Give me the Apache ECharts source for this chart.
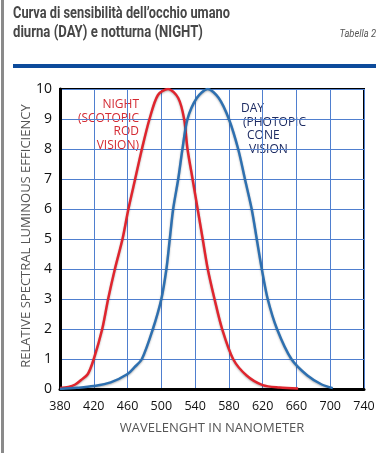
<!DOCTYPE html>
<html><head><meta charset="utf-8">
<script src="https://cdn.jsdelivr.net/npm/echarts@6/dist/echarts.min.js"></script>
<style>html,body{margin:0;padding:0;background:#fff}#c{width:385px;height:453px}</style>
</head><body><div id="c"></div>
<script>
var titleLines = ["Curva di sensibilità dell\u2019occhio umano", "diurna (DAY) e notturna (NIGHT)"];
var tableLabel = "Tabella 2";
var xName = "WAVELENGHT IN NANOMETER";
var yName = "RELATIVE SPECTRAL LUMINOUS EFFICIENCY";
var nightLabel = ["NIGHT", "(SCOTOPIC", "ROD", "VISION)"];
var dayLabel = ["DAY", "(PHOTOPIC", "CONE", "VISION"];
var nightWl = [380, 390, 398, 405, 413, 420, 430, 437, 445, 454, 461, 469, 477, 486, 496, 508, 520, 527, 531, 537, 543, 549, 555, 563, 572, 585, 601, 620, 640, 662];
var nightVal = [0.03, 0.07, 0.15, 0.3, 0.5, 1.0, 2.0, 3.0, 4.0, 5.0, 6.0, 7.0, 8.0, 9.0, 9.8, 10.0, 9.7, 9.0, 8.0, 7.0, 6.0, 5.0, 4.0, 3.0, 2.0, 1.0, 0.45, 0.13, 0.05, 0.02];
var dayWl = [380, 400, 420, 440, 460, 468, 477, 490, 500, 506, 510, 514, 520, 525, 531, 542, 555, 568, 580, 591, 599, 607, 613, 619, 626, 637, 654, 673, 690, 703];
var dayVal = [0.0, 0.04, 0.1, 0.22, 0.5, 0.72, 1.0, 2.0, 3.0, 4.0, 5.0, 6.0, 7.0, 8.0, 9.0, 9.7, 10.0, 9.7, 9.0, 8.0, 7.0, 6.0, 5.0, 4.0, 3.0, 2.0, 1.0, 0.45, 0.15, 0.03];
function pairs(a, b) { return a.map(function (v, i) { return [v, b[i]]; }); }

var chart = echarts.init(document.getElementById('c'), null, {renderer: 'canvas'});
var graphics = [
  {type: 'rect', left: 1, top: 0, shape: {width: 3, height: 453}, style: {fill: '#8a8a8a'}},
  {type: 'text', left: 13, top: 6, scaleX: 0.8, style: {text: titleLines[0], font: 'bold 16px Roboto', fill: '#474747'}},
  {type: 'text', left: 13, top: 25, scaleX: 0.82, style: {text: titleLines[1], font: 'bold 16px Roboto', fill: '#474747'}},
  {type: 'text', right: 9, top: 29, scaleX: 0.85, style: {text: tableLabel, font: 'italic 11px Roboto', fill: '#555'}},
  {type: 'rect', left: 13, top: 64, shape: {width: 363, height: 4}, style: {fill: '#0d4b9b'}},
  {type: 'text', x: 26, y: 236, rotation: Math.PI / 2, style: {text: yName, font: '13px "Open Sans"', fill: '#555', align: 'center', verticalAlign: 'middle'}}
];
nightLabel.forEach(function (t, i) {
  graphics.push({type: 'text', x: 139, y: 99 + i * 13.5, style: {text: t, font: '12px "Open Sans"', fill: '#d42a33', align: 'right'}});
});
var dayX = [241, 243, 247, 249];
dayLabel.forEach(function (t, i) {
  graphics.push({type: 'text', x: dayX[i], y: 103 + i * 13.5, style: {text: t, font: '12px "Open Sans"', fill: '#1d2b62', align: 'left'}});
});

var lineShadow = {shadowColor: 'rgba(0,0,0,0.3)', shadowBlur: 2, shadowOffsetY: 1};
chart.setOption({
  animation: false,
  graphic: graphics,
  grid: {left: 60, right: 21, top: 89, bottom: 64, show: true, borderColor: '#000', borderWidth: 2},
  xAxis: {
    type: 'value', min: 380, max: 740, interval: 40,
    name: xName, nameLocation: 'middle', nameGap: 33,
    nameTextStyle: {fontFamily: '"Open Sans"', fontSize: 13, color: '#555'},
    axisLine: {lineStyle: {color: '#000', width: 3}},
    axisTick: {show: false},
    axisLabel: {fontFamily: '"Open Sans"', fontSize: 12.5, color: '#111', margin: 11},
    splitLine: {lineStyle: {color: '#4f7fcf', width: 1}}
  },
  yAxis: {
    type: 'value', min: 0, max: 10, interval: 1,
    axisLine: {lineStyle: {color: '#000', width: 3}},
    axisTick: {show: false},
    axisLabel: {fontFamily: '"Open Sans"', fontSize: 14, color: '#111', margin: 8},
    splitLine: {lineStyle: {color: '#4f7fcf', width: 1}}
  },
  series: [
    {type: 'line', data: pairs(nightWl, nightVal), smooth: 0.3, showSymbol: false,
     lineStyle: Object.assign({color: '#e0252e', width: 2.5}, lineShadow)},
    {type: 'line', data: pairs(dayWl, dayVal), smooth: 0.3, showSymbol: false,
     lineStyle: Object.assign({color: '#2e70b0', width: 2.5}, lineShadow)}
  ]
});
</script></body></html>
